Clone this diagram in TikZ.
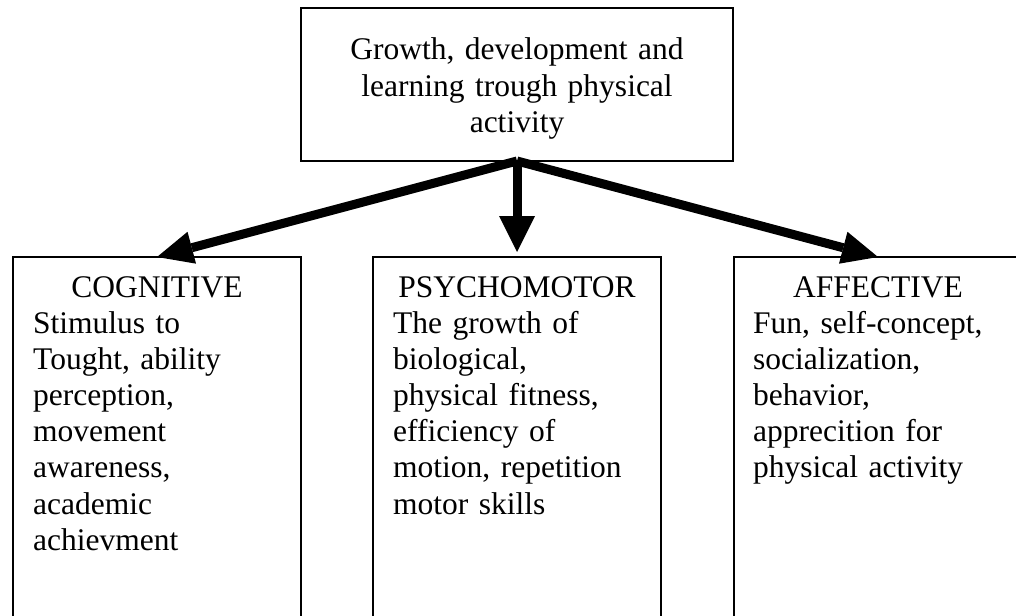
\documentclass[tikz,border=0pt]{standalone}
\usepackage{fontspec}
\setmainfont{Liberation Serif}
\usetikzlibrary{arrows.meta,positioning}

\begin{document}
\begin{tikzpicture}[x=1pt, y=1pt, >={Triangle[length=36pt, width=36pt, line width=0pt]},
  box/.style={draw, line width=1.6pt, inner sep=0pt, outer sep=0pt},
  areabox/.style={box, minimum width=288pt, minimum height=400pt},
  txt/.style={inner sep=0pt, font=\fontsize{31.5}{36.2}\selectfont},
  heading/.style={txt, anchor=base},
  bodytext/.style={txt, text width=260pt, align=left, anchor=base west},
  bigarrow/.style={->, line width=9pt},
  sidearrow/.style={bigarrow, -{Triangle[length=36pt, width=33pt, line width=0pt]}}]
\path[use as bounding box] (0,0) rectangle (1016,-615);
\clip (0,0) rectangle (1016,-615);
% top box
\node[box, minimum width=432pt, minimum height=153pt] (goal) at (517,-84.5) {};
\node[txt, text width=432pt, align=center, anchor=base] (goaltext) at ([yshift=-52pt]goal.north)
  {Growth, development and\\learning trough physical\\activity};
% the three domains
\node[areabox, anchor=north] (psy) at (517,-257) {};
\node[areabox, left=72pt of psy] (cog) {};
\node[areabox, right=73pt of psy] (aff) {};
\node[heading] (cogtitle) at ([yshift=-40pt]cog.north) {COGNITIVE};
\node[heading] (psytitle) at ([yshift=-40pt]psy.north) {PSYCHOMOTOR};
\node[heading] (afftitle) at ([yshift=-40pt]aff.north) {AFFECTIVE};
\node[bodytext] (cogtext) at ([xshift=20pt, yshift=-76pt]cog.north west)
  {Stimulus to\\Tought, ability\\perception,\\movement\\awareness,\\academic\\achievment};
\node[bodytext] (psytext) at ([xshift=20pt, yshift=-76pt]psy.north west)
  {The growth of\\biological,\\physical fitness,\\efficiency of\\motion, repetition\\motor skills};
\node[bodytext] (afftext) at ([xshift=19pt, yshift=-76pt]aff.north west)
  {Fun, self-concept,\\socialization,\\behavior,\\apprecition for\\physical activity};
% arrows
\draw[sidearrow] (goal.south) -- (cog.north);
\draw[sidearrow] (goal.south) -- (aff.north);
\draw[bigarrow, shorten >=5pt] (goal.south) -- (psy.north);
\end{tikzpicture}
\end{document}
